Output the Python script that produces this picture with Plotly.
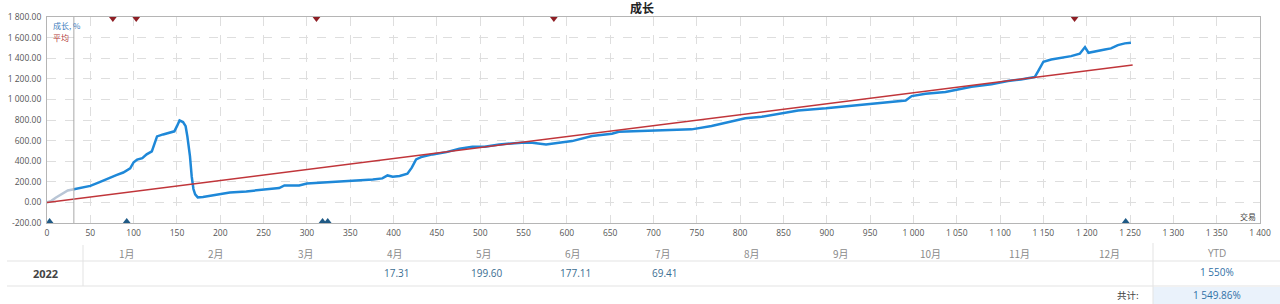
import plotly.graph_objects as go

# ---------------- data ----------------
pre_trades = [0, 5, 10, 17, 24, 31]
pre_growth = [0, 15, 45, 80, 115, 128]

trades = [31, 40, 50, 60, 69, 80, 88, 96, 100, 104, 110, 115, 121, 124, 127, 134, 142, 147, 150, 153,
          157, 160, 162, 165, 167, 169, 171, 174, 180, 184, 196, 211, 230, 245, 268, 274, 291, 300,
          338, 346, 376, 387, 393, 399, 407, 416, 421, 426, 433, 445, 461, 476, 491, 505, 522, 548,
          560, 576, 588, 606, 629, 652, 660, 691, 714, 744, 767, 790, 806, 825, 844, 867, 899, 937,
          975, 991, 998, 1014, 1037, 1052, 1067, 1090, 1109, 1124, 1140, 1144, 1150, 1159, 1170,
          1182, 1192, 1196, 1198, 1202, 1210, 1221, 1228, 1236, 1244, 1251]
growth = [128, 145, 160, 195, 230, 265, 290, 330, 390, 415, 430, 466, 495, 560, 641, 660, 675, 690, 740, 795,
          780, 740, 641, 450, 252, 130, 78, 49, 52, 58, 78, 97, 107, 117, 139, 165, 165, 184,
          201, 211, 223, 233, 262, 250, 256, 279, 337, 417, 444, 466, 488, 521, 541, 540, 563, 580,
          580, 563, 573, 595, 644, 667, 686, 692, 699, 709, 741, 789, 816, 832, 861, 893, 913, 945,
          974, 990, 1032, 1055, 1071, 1097, 1123, 1146, 1178, 1194, 1217, 1275, 1366, 1388, 1404,
          1420, 1444, 1485, 1508, 1453, 1469, 1485, 1495, 1527, 1544, 1550]

avg_trades = [0, 1253]
avg_growth = [0, 1334]

top_marker_trades = [76, 103, 311, 585, 1186]
bottom_marker_trades = [3, 92, 318, 324, 1245]

period_start = 31

y_ticks = [-200, 0, 200, 400, 600, 800, 1000, 1200, 1400, 1600, 1800]
x_ticks = list(range(0, 1401, 50))

months = ["1月", "2月", "3月", "4月", "5月", "6月", "7月", "8月", "9月", "10月", "11月", "12月"]
year_label = "2022"
month_values = ["", "", "", "17.31", "199.60", "177.11", "69.41", "", "", "", "", ""]
ytd_value = "1 550%"
total_label = "共计:"
total_value = "1 549.86%"

# ---------------- layout helpers ----------------
W, H = 1280, 304
L, R, T, B = 47, 20, 17, 81
PW, PH = W - L - R, H - T - B


def px(x):
    return (x - L) / PW


def py(y):
    return (T + PH - y) / PH


FONT = "Open Sans, Noto Sans CJK SC, sans-serif"
CJK = "Noto Sans CJK SC, sans-serif"

fig = go.Figure()

fig.add_trace(go.Scatter(x=pre_trades, y=pre_growth, mode="lines",
                         line=dict(color="#b9c6d6", width=2.5), hoverinfo="skip"))
fig.add_trace(go.Scatter(x=trades, y=growth, mode="lines",
                         line=dict(color="#1e88d8", width=2.5), hoverinfo="skip"))
fig.add_trace(go.Scatter(x=avg_trades, y=avg_growth, mode="lines",
                         line=dict(color="#c0353a", width=1.5), hoverinfo="skip"))
fig.add_trace(go.Scatter(x=top_marker_trades, y=[1800] * len(top_marker_trades), mode="markers",
                         marker=dict(symbol="triangle-down", size=10, color="#8e1e24"),
                         hoverinfo="skip"))
fig.add_trace(go.Scatter(x=bottom_marker_trades, y=[-200] * len(bottom_marker_trades), mode="markers",
                         marker=dict(symbol="triangle-up", size=10, color="#1f5a86"),
                         hoverinfo="skip"))

fig.update_layout(
    width=W, height=H, margin=dict(l=L, r=R, t=T, b=B, autoexpand=False),
    paper_bgcolor="white", plot_bgcolor="white", showlegend=False,
    font=dict(family=FONT, size=9, color="#555555"),
)
fig.update_xaxes(range=[0, 1400], tickvals=x_ticks, automargin=False,
                 ticktext=[f"{v:,}".replace(",", " ") for v in x_ticks],
                 showgrid=True, gridcolor="#dedede", griddash="dash", gridwidth=1,
                 showline=True, linecolor="#b5b5b5", linewidth=1, mirror=True,
                 ticks="outside", ticklen=2, tickcolor="rgba(0,0,0,0)",
                 zeroline=False, tickfont=dict(size=8.5, color="#555555"))
fig.update_yaxes(range=[-200, 1800], tickvals=y_ticks, automargin=False,
                 ticktext=[f"{v:,.2f}".replace(",", " ") for v in y_ticks],
                 showgrid=True, gridcolor="#dedede", griddash="dash", gridwidth=1,
                 showline=True, linecolor="#b5b5b5", linewidth=1, mirror=True,
                 ticks="outside", ticklen=3, tickcolor="rgba(0,0,0,0)",
                 zeroline=False, tickfont=dict(size=8.5, color="#555555"))

shapes = []
shapes.append(dict(type="line", xref="x", yref="paper", x0=period_start, x1=period_start, y0=0, y1=1,
                   line=dict(color="#a8a8a8", width=1)))
# table lines
for yy in (261, 286):
    shapes.append(dict(type="line", xref="paper", yref="paper", x0=px(7), x1=px(1280), y0=py(yy), y1=py(yy),
                       line=dict(color="#e3e3e3", width=1)))
shapes.append(dict(type="rect", xref="paper", yref="paper", x0=px(1153), x1=px(1280), y0=py(287), y1=py(304),
                   line=dict(width=0), fillcolor="#eaf2fb", layer="below"))
shapes.append(dict(type="line", xref="paper", yref="paper", x0=px(83), x1=px(83), y0=py(245), y1=py(286),
                   line=dict(color="#e3e3e3", width=1)))
shapes.append(dict(type="line", xref="paper", yref="paper", x0=px(1153), x1=px(1153), y0=py(243), y1=py(304),
                   line=dict(color="#e3e3e3", width=1)))
fig.update_layout(shapes=shapes)

ann = []


def text(x, y, s, size=9, color="#555555", bold=False, xanchor="center", family=FONT):
    ann.append(dict(xref="paper", yref="paper", x=px(x), y=py(y), text=f"<b>{s}</b>" if bold else s,
                    showarrow=False, xanchor=xanchor, yanchor="middle", borderpad=0,
                    font=dict(size=size, color=color, family=family)))


text(642, 7, "成长", size=12, color="#222222", bold=True, family=CJK)
text(52, 26, "成长, %", size=8, color="#3d7cbc", xanchor="left", family=CJK)
text(52, 38, "平均", size=8, color="#b33a3a", xanchor="left", family=CJK)
text(1257, 216, "交易", size=8, color="#444444", xanchor="right", family=CJK)

for i, m in enumerate(months):
    cx = 127 + i * (1109 - 127) / 11
    text(cx, 253, m, size=10, color="#8a8a8a", family=CJK)
    if month_values[i]:
        text(cx + 2, 273, month_values[i], size=10, color="#3a6d91")
text(1217, 253, "YTD", size=10, color="#8a8a8a")
text(45, 273, year_label, size=11, color="#444444", bold=True)
text(1217, 272, ytd_value, size=10, color="#2f70a6")
text(1140, 295, total_label, size=9.5, color="#444444", xanchor="right", family=CJK)
text(1217, 295, total_value, size=10, color="#2f70a6")
fig.update_layout(annotations=ann)

fig.write_html("out.html")
